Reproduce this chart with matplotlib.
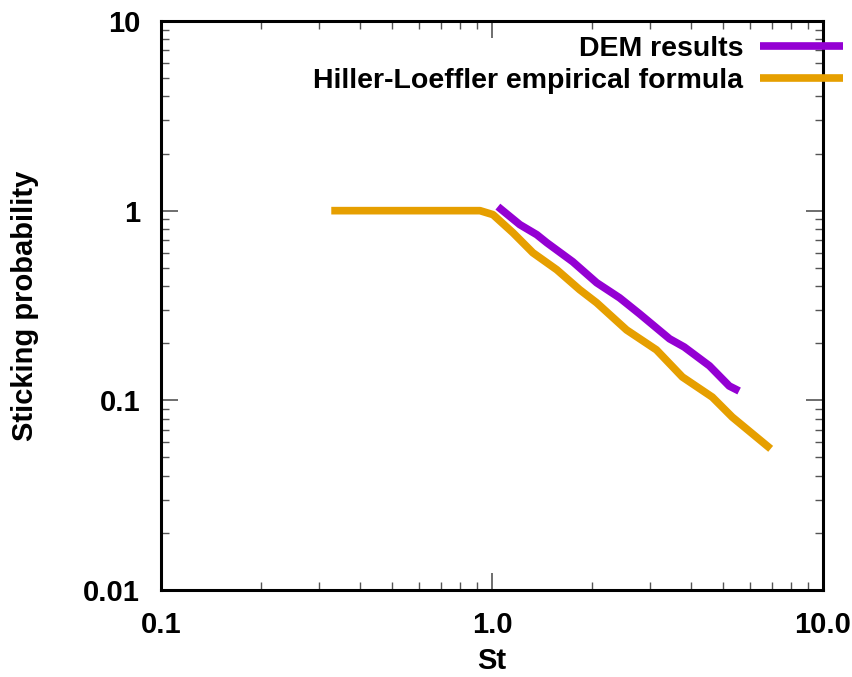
import matplotlib
matplotlib.use("Agg")
import matplotlib.pyplot as plt
from matplotlib.ticker import LogLocator, FixedLocator, FixedFormatter, NullFormatter

# Hiller-Loeffler empirical formula
hl_st = [0.327, 0.92, 1.007, 1.157, 1.329, 1.57, 1.841, 2.071, 2.551, 3.14, 3.76, 4.63, 5.32, 6.95]
hl_p = [1.0, 1.0, 0.953, 0.765, 0.600, 0.488, 0.383, 0.327, 0.235, 0.1845, 0.1328, 0.104, 0.0816, 0.0555]

# DEM results
dem_st = [1.042, 1.214, 1.366, 1.464, 1.754, 2.071, 2.43, 2.79, 3.44, 3.81, 4.54, 5.21, 5.58]
dem_p = [1.05, 0.844, 0.747, 0.678, 0.538, 0.417, 0.347, 0.286, 0.211, 0.191, 0.152, 0.119, 0.112]

x_ticks = [0.1, 1.0, 10.0]
x_labels = ["0.1", "1.0", "10.0"]
y_ticks = [0.01, 0.1, 1, 10]
y_labels = ["0.01", "0.1", "1", "10"]

plt.rcParams["font.family"] = ["Liberation Sans", "DejaVu Sans"]
plt.rcParams["font.weight"] = "bold"

fig = plt.figure(figsize=(8.53, 6.77), dpi=100)
ax = fig.add_axes([0.1887, 0.1285, 0.7761, 0.8405])

ax.plot(dem_st, dem_p, color="#9400D3", linewidth=5.5, label="DEM results",
        solid_capstyle="butt")
ax.plot(hl_st, hl_p, color="#E69F00", linewidth=5.5, label="Hiller-Loeffler empirical formula",
        solid_capstyle="butt")

ax.set_xscale("log")
ax.set_yscale("log")
ax.set_xlim(0.1, 10)
ax.set_ylim(0.01, 10)

ax.xaxis.set_major_locator(FixedLocator(x_ticks))
ax.xaxis.set_major_formatter(FixedFormatter(x_labels))
ax.yaxis.set_major_locator(FixedLocator(y_ticks))
ax.yaxis.set_major_formatter(FixedFormatter(y_labels))
ax.xaxis.set_minor_locator(LogLocator(base=10, subs=range(2, 10)))
ax.yaxis.set_minor_locator(LogLocator(base=10, subs=range(2, 10)))
ax.xaxis.set_minor_formatter(NullFormatter())
ax.yaxis.set_minor_formatter(NullFormatter())

ax.tick_params(which="both", direction="in", top=True, right=True)
ax.tick_params(which="major", length=12, width=1.2, labelsize=21, color="#555555")
ax.tick_params(axis="x", which="major", pad=15)
ax.tick_params(axis="y", which="major", pad=15)
ax.tick_params(which="minor", length=6, width=1, color="#555555")

for s in ax.spines.values():
    s.set_linewidth(2.2)

ax.set_xlabel("St", fontsize=21, fontweight="bold", labelpad=6)
ax.set_ylabel("Sticking probability", fontsize=21, fontweight="bold", labelpad=32)

leg = ax.legend(loc="upper right", bbox_to_anchor=(1.047, 0.993), frameon=False,
                markerfirst=False, fontsize=20.5, handlelength=2.9, handletextpad=0.6,
                labelspacing=0.2, borderaxespad=0)
for t in leg.get_texts():
    t.set_fontweight("bold")

fig.savefig("out.png", dpi=100)
